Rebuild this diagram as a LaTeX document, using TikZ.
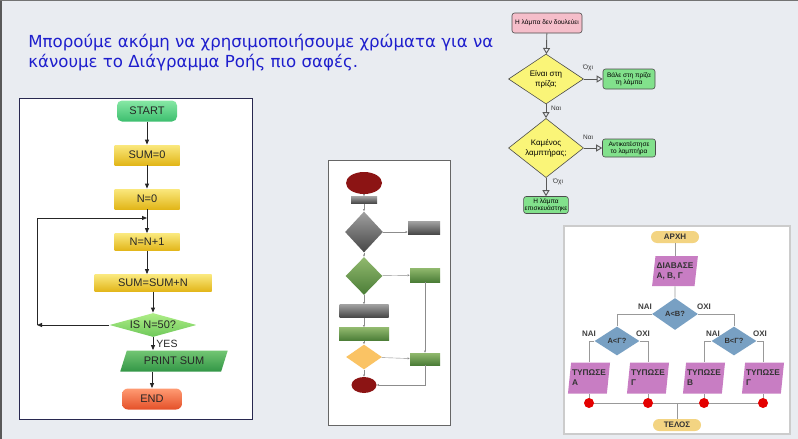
\documentclass[tikz,border=0pt]{standalone}
\usepackage{fontspec}
\setmainfont{Liberation Sans}
\newfontfamily\titlefont{DejaVu Sans}
\usetikzlibrary{shapes.geometric,arrows.meta}

\definecolor{bgpage}{RGB}{233,236,241}
\definecolor{titleblue}{RGB}{30,30,205}
\definecolor{panelnavy}{RGB}{40,40,80}
\definecolor{startA}{RGB}{135,232,165}
\definecolor{startB}{RGB}{60,190,110}
\definecolor{yelA}{RGB}{250,232,125}
\definecolor{yelB}{RGB}{226,182,25}
\definecolor{decA}{RGB}{175,238,135}
\definecolor{decB}{RGB}{110,200,90}
\definecolor{ioA}{RGB}{115,198,115}
\definecolor{ioB}{RGB}{50,150,70}
\definecolor{endA}{RGB}{255,155,115}
\definecolor{endB}{RGB}{228,80,40}
\definecolor{lamppink}{RGB}{245,190,202}
\definecolor{lampyel}{RGB}{250,245,120}
\definecolor{lampgrn}{RGB}{130,225,140}
\definecolor{algbeige}{RGB}{243,212,130}
\definecolor{algpurple}{RGB}{200,125,195}
\definecolor{algblue}{RGB}{120,160,195}
\definecolor{algred}{RGB}{228,0,0}
\definecolor{midred}{RGB}{140,20,20}
\definecolor{midgrayA}{RGB}{160,160,160}
\definecolor{midgrayB}{RGB}{70,70,70}
\definecolor{midgrnA}{RGB}{145,185,110}
\definecolor{midgrnB}{RGB}{75,125,55}
\definecolor{midorange}{RGB}{250,195,100}

\tikzset{every picture/.style={line width=0.75pt}}

\begin{document}
\begin{tikzpicture}[x=1pt,y=1pt,yscale=-1,
  %left chart
  lstart/.style={rectangle,rounded corners=5pt,minimum width=60pt,minimum height=21pt,top color=startA,bottom color=startB,font=\fontsize{11}{13}\selectfont,text=black!85},
  lproc/.style={rectangle,minimum width=65pt,minimum height=20pt,top color=yelA,bottom color=yelB,font=\fontsize{11}{13}\selectfont,text=black!85},
  ldec/.style={diamond,aspect=3.6,inner sep=0pt,minimum width=87pt,minimum height=24pt,top color=decA,bottom color=decB,font=\fontsize{11}{13}\selectfont,text=black!85},
  lio/.style={trapezium,trapezium left angle=72,trapezium right angle=108,trapezium stretches=true,minimum width=108pt,minimum height=21pt,top color=ioA,bottom color=ioB,font=\fontsize{11}{13}\selectfont,text=black!85},
  lstop/.style={rectangle,rounded corners=6pt,minimum width=60pt,minimum height=21pt,top color=endA,bottom color=endB,font=\fontsize{11}{13}\selectfont,text=black!85},
  larrow/.style={draw=black!85,line width=0.8pt,-{Triangle[length=5pt,width=4pt]}},
  %lamp chart
  lampbox/.style={rectangle,rounded corners=2.5pt,draw=black!70,line width=0.6pt,align=center,inner sep=1pt,font=\fontsize{6.5}{7.5}\selectfont},
  lampdec/.style={diamond,draw=black!70,line width=0.6pt,fill=lampyel,align=center,inner sep=0pt,minimum width=75pt,minimum height=48pt,font=\fontsize{8}{10}\selectfont},
  lamparrow/.style={draw=black!65,line width=0.9pt,-{Triangle[open,length=6pt,width=7pt]}},
  lamplabel/.style={font=\fontsize{6.5}{7.5}\selectfont,text=black!80},
  %algorithm chart
  algterm/.style={rectangle,rounded corners=6pt,fill=algbeige,minimum width=48pt,minimum height=12pt,inner sep=0pt,font=\bfseries\fontsize{8}{8}\selectfont,text=black!80},
  algio/.style={trapezium,trapezium left angle=80,trapezium right angle=100,trapezium stretches=true,fill=algpurple,minimum width=42pt,minimum height=31pt,inner sep=1pt,align=left,font=\bfseries\fontsize{8.3}{10}\selectfont,text=black!80},
  algdec/.style={diamond,fill=algblue,minimum width=45pt,minimum height=29pt,inner sep=0pt,font=\bfseries\fontsize{7.5}{8}\selectfont,text=black!80},
  algline/.style={draw=black!40,line width=0.9pt},
  algdot/.style={circle,fill=algred,minimum size=10pt,inner sep=0pt},
  alglabel/.style={font=\bfseries\fontsize{8}{8}\selectfont,text=black!75},
  %thumbnail chart
  minirect/.style={rectangle,minimum width=#1,inner sep=0pt},
  minigray/.style={top color=midgrayA,bottom color=midgrayB},
  minigreen/.style={top color=midgrnA,bottom color=midgrnB},
  miniline/.style={draw=black!45,line width=0.4pt,-{Triangle[length=2pt,width=2pt]}}
]
%uncomment if require: \path (0,439); %page of 798 x 439

%Shape: Page background
\fill [bgpage] (0,0) rectangle (798,439);
\fill [black!65] (0,0) rectangle (2,439);
\fill [black!55] (0,0) rectangle (798,1);

% Text Node
\node (title) [anchor=west,align=left,inner sep=0pt,text=titleblue,font=\titlefont\fontsize{16.6}{20}\selectfont] at (28,53) {Μπορούμε ακόμη να χρησιμοποιήσουμε χρώματα για να\\κάνουμε το Διάγραμμα Ροής πιο σαφές.};

%Shape: Left panel
\draw [panelnavy,fill=white,line width=1pt] (19,98) rectangle (252,419);

\node (start) [lstart] at (147,111) {START};
\node (sum0) [lproc] at (147,155) {SUM=0};
\node (n0) [lproc] at (147,199) {N=0};
\node (nn1) [lproc,minimum height=17pt] at (147,242) {N=N+1};
\node (ssn) [lproc,minimum width=117pt,minimum height=17pt] at (153,283) {SUM=SUM+N};
\node (isn) [ldec] at (153,325) {IS N=50?};
\node (prt) [lio] at (174,361) {PRINT SUM};
\node (fin) [lstop] at (152,399) {END};
\coordinate (loopL) at (37,325);
\coordinate (loopT) at (147,218);

\draw [larrow] (start) -- (sum0);
\draw [larrow] (sum0) -- (n0);
\draw [larrow] (n0) -- (nn1);
\draw [larrow] (nn1) -- (nn1.south |- ssn.north);
\draw [larrow] (ssn) -- (isn);
\draw [larrow] (isn) -- (isn.south |- prt.north);
\draw [larrow] (fin.north |- prt.south) -- (fin);
\draw [larrow] (isn.west) -- (loopL);
\draw [larrow] (loopL) |- (loopT);

% Text Node
\node (yes) [font=\fontsize{10.5}{12}\selectfont,text=black!85] at (167,344) {YES};

%Shape: Thumbnail panel
\draw [black!60,fill=white,line width=0.8pt] (328,160) rectangle (450,425);

\node (mtop) [ellipse,fill=midred,minimum width=36pt,minimum height=22pt,inner sep=0pt] at (364,183) {};
\node (mchk) [minirect=26pt,minigray,minimum height=7pt] at (364,200) {};
\node (mdia1) [diamond,minigray,minimum width=38pt,minimum height=41pt,inner sep=0pt] at (364,232) {};
\node (mnote1) [minirect=32pt,minigray,minimum height=13pt] at (424,228) {};
\node (mdia2) [diamond,minigreen,minimum width=37pt,minimum height=38pt,inner sep=0pt] at (364,276) {};
\node (mrec1) [minirect=30pt,minigreen,minimum height=14pt] at (425,275) {};
\node (mbox1) [minirect=49pt,minigray,minimum height=13pt] at (364,311) {};
\node (mbox2) [minirect=50pt,minigreen,minimum height=13pt] at (364,334) {};
\node (mdia3) [diamond,fill=midorange,minimum width=36pt,minimum height=25pt,inner sep=0pt] at (364,357) {};
\node (mrec2) [minirect=30pt,minigreen,minimum height=12pt] at (425,359) {};
\node (mbot) [ellipse,fill=midred,minimum width=25pt,minimum height=16pt,inner sep=0pt] at (364,385) {};
\coordinate (mcorner) at (425,385);

\draw [miniline] (mtop) -- (mchk);
\draw [miniline] (mchk) -- (mdia1);
\draw [miniline] (mdia1) -- (mnote1.west |- mdia1.east);
\draw [miniline] (mdia1) -- (mdia2);
\draw [miniline] (mdia2) -- (mrec1);
\draw [miniline] (mdia2) -- (mbox1);
\draw [miniline] (mbox1) -- (mbox2);
\draw [miniline] (mbox2) -- (mdia3);
\draw [miniline] (mdia3) -- (mrec2);
\draw [miniline] (mdia3) -- (mbot);
\draw [miniline] (mrec1) -- (mrec2);
\draw [miniline] (mrec2) -- (mcorner) -- (mbot);

%Lamp chart
\node (lamp0) [lampbox,fill=lamppink,minimum width=70pt,minimum height=20pt] at (547,23) {Η λάμπα δεν δουλεύει};
\node (plug) [lampdec] at (546,79) {Είναι στη\\πρίζα;};
\node (plugin) [lampbox,fill=lampgrn,minimum width=52pt,minimum height=20pt] at (629,79) {Βάλε στη πρίζα\\τη λάμπα};
\node (bulb) [lampdec,minimum height=45pt] at (546,148) {Καμένος\\λαμπτήρας;};
\node (swap) [lampbox,fill=lampgrn,minimum width=53pt,minimum height=18pt] at (629,148) {Αντικατέστησε\\το λαμπτήρα};
\node (fixed) [lampbox,fill=lampgrn,minimum width=37pt,minimum height=17pt] at (546,205) {Η λάμπα\\επισκευάστηκε};

\draw [lamparrow] (lamp0) -- (plug);
\draw [lamparrow] (plug) -- (plugin);
\draw [lamparrow] (plug) -- (bulb);
\draw [lamparrow] (bulb) -- (swap);
\draw [lamparrow] (bulb) -- (fixed);

% Text Node
\node (no1) [lamplabel] at (588,68) {Όχι};
\node (yes1) [lamplabel] at (556,108) {Ναι};
\node (yes2) [lamplabel] at (588,137) {Ναι};
\node (no2) [lamplabel] at (558,182) {Όχι};

%Shape: Algorithm panel
\draw [black!20,fill=white,line width=1.2pt] (564,226) rectangle (790,434);

\node (arxi) [algterm] at (675,237) {ΑΡΧΗ};
\node (read) [algio,minimum width=46pt,minimum height=30pt] at (675,271) {ΔΙΑΒΑΣΕ\\Α, Β, Γ};
\node (ab) [algdec,minimum width=46pt,minimum height=32pt] at (675,314) {Α<Β?};
\node (ac) [algdec] at (617,341) {Α<Γ?};
\node (bc) [algdec] at (734,341) {Β<Γ?};
\node (pa) [algio] at (589,378) {ΤΥΠΩΣΕ\\Α};
\node (pg1) [algio] at (648,378) {ΤΥΠΩΣΕ\\Γ};
\node (pb) [algio] at (704,378) {ΤΥΠΩΣΕ\\Β};
\node (pg2) [algio] at (763,378) {ΤΥΠΩΣΕ\\Γ};
\node (telos) [algterm] at (677,425) {ΤΕΛΟΣ};
\coordinate (join) at (677,403);

\draw [algline] (arxi) -- (read);
\draw [algline] (read) -- (ab);
\draw [algline] (ab.west) -| (ac.north);
\draw [algline] (ab.east) -| (bc.north);
\draw [algline] (ac.west) -| (pa.north);
\draw [algline] (ac.east) -| (pg1.north);
\draw [algline] (bc.west) -| (pb.north);
\draw [algline] (bc.east) -| (pg2.north);
\draw [algline] (pa.south) -- (pa.south |- join) -- (pg2.south |- join) -- (pg2.south);
\draw [algline] (pg1.south) -- (pg1.south |- join);
\draw [algline] (pb.south) -- (pb.south |- join);
\draw [algline] (join) -- (telos);

\node (da) [algdot] at (pa.south |- join) {};
\node (dg1) [algdot] at (pg1.south |- join) {};
\node (db) [algdot] at (pb.south |- join) {};
\node (dg2) [algdot] at (pg2.south |- join) {};

% Text Node
\node (nai1) [alglabel] at (645,307) {ΝΑΙ};
\node (oxi1) [alglabel] at (704,307) {ΟΧΙ};
\node (nai2) [alglabel] at (589,334) {ΝΑΙ};
\node (oxi2) [alglabel] at (643,334) {ΟΧΙ};
\node (nai3) [alglabel] at (713,334) {ΝΑΙ};
\node (oxi3) [alglabel] at (760,334) {ΟΧΙ};

\end{tikzpicture}
\end{document}
